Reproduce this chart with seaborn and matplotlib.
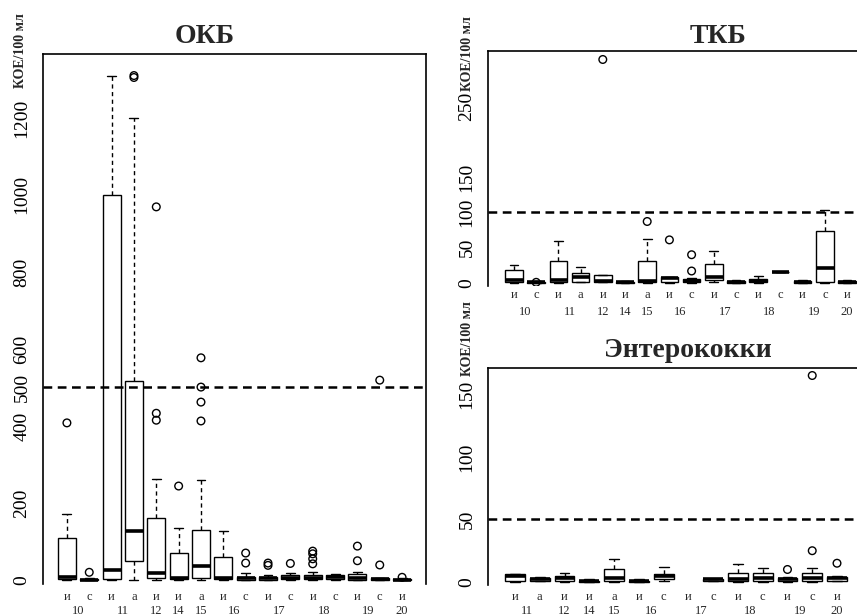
import numpy as np
import pandas as pd
import matplotlib
matplotlib.use("Agg")
import matplotlib.pyplot as plt
import matplotlib.transforms as mtransforms
import seaborn as sns

# ---- ОКБ ----
okb_groups = ["и10", "с10", "и11", "а11", "и12", "и14", "а15", "и16",
              "с16", "и17", "с17", "и18", "с18", "и19", "с19", "и20"]
okb_lo = [0, 0, 0, 0, 0, 0, 0, 0, 0, 0, 0, 0, 0, 0, 0, 0]
okb_q1 = [2, 0, 2, 50, 5, 2, 5, 2, 1, 1, 3, 3, 2, 1, 0, 0]
okb_med = [8, 1, 25, 127, 18, 5, 36, 4, 4, 4, 6, 6, 8, 5, 2, 1]
okb_q3 = [109, 3, 1000, 517, 160, 70, 130, 60, 9, 8, 12, 14, 14, 15, 4, 2]
okb_hi = [171, 6, 1310, 1200, 262, 135, 260, 127, 18, 14, 18, 20, 16, 21, 6, 4]
okb_out = {"и10": [408], "с10": [20], "а11": [1305, 1310], "и12": [415, 433, 969],
           "и14": [244], "а15": [413, 462, 501, 577], "с16": [44, 70], "и17": [38, 44],
           "с17": [43], "и18": [42, 55, 68, 75], "и19": [50, 88], "с19": [39, 519],
           "и20": [7]}
okb_ticks = [0, 200, 400, 500, 600, 800, 1000, 1200]
okb_ticklabels = ["0", "200", "400", "500", "600", "800", "1000", "1200"]

# ---- ТКБ ----
tkb_groups = okb_groups
tkb_lo = [0, 0, 0, 1, 2, 0, 0, 0, 0, 1, 0, 0, 15, 0, 0, 0]
tkb_q1 = [1, 0, 1, 2, 2, 0, 1, 1, 1, 4, 0, 1, 15, 0, 1, 0]
tkb_med = [4, 1, 4, 8, 3, 1, 3, 7, 3, 8, 2, 3, 15, 2, 21, 2]
tkb_q3 = [18, 2, 31, 14, 12, 2, 31, 9, 5, 27, 3, 6, 15, 3, 74, 3]
tkb_hi = [25, 3, 59, 22, 12, 3, 62, 9, 7, 45, 4, 10, 15, 4, 103, 4]
tkb_out = {"с10": [1], "и12": [316], "а15": [87], "и16": [61], "с16": [17, 40]}
tkb_ticks = [0, 50, 100, 150, 200, 250, 300]
tkb_ticklabels = ["0", "50", "100", "150", "", "250", ""]

# ---- Энтерококки ----
ent_groups = ["и11", "а11", "и12", "и14", "а15", "и16", "с16",
              "и17", "с17", "и18", "с18", "и19", "с19", "и20"]
nan = np.nan
ent_lo = [0, 1, 0, 0, 0, 0, 1, nan, 1, 0, 0, 0, 0, 1]
ent_q1 = [1, 1, 1, 0, 1, 0, 2, nan, 1, 1, 1, 1, 1, 1]
ent_med = [5, 2, 3, 1, 3, 1, 5, nan, 2, 2, 3, 2, 3, 3]
ent_q3 = [6, 3, 5, 1, 10, 1, 6, nan, 2, 7, 7, 3, 7, 4]
ent_hi = [6, 4, 7, 2, 18, 2, 12, nan, 2, 14, 11, 4, 11, 5]
ent_out = {"и19": [10], "с19": [25, 165], "и20": [15]}
ent_ticks = [0, 50, 100, 150]
ent_ticklabels = ["0", "50", "100", "150"]

UNIT = "КОЕ/100 мл"
W, H = 857, 616


def box_frame(groups, lo, q1, med, q3, hi):
    rows = []
    for g, a, b, c, d, e in zip(groups, lo, q1, med, q3, hi):
        if np.isnan(a):
            continue
        rows += [(g, v) for v in (a, b, c, d, e)]
    return pd.DataFrame(rows, columns=["group", "value"])


def out_frame(out):
    rows = [(g, v) for g, vals in out.items() for v in vals]
    return pd.DataFrame(rows, columns=["group", "value"])


def px_axes(fig, x0, x1, y0, y1):
    return fig.add_axes([x0 / W, 1 - y1 / H, (x1 - x0) / W, (y1 - y0) / H])


def draw_panel(fig, ax, groups, stats, out, limit, ticks, ticklabels, ylim, xpad,
               unit_off, letters_y, numbers_y):
    sns.boxplot(data=box_frame(groups, *stats), x="group", y="value", order=groups, ax=ax,
                color="white", linecolor="black", linewidth=1.0, width=0.8,
                whis=(0, 100), showfliers=False,
                medianprops={"linewidth": 2.6, "color": "black"},
                whiskerprops={"linestyle": (0, (3, 2.5))})
    n_before = len(ax.collections)
    sns.stripplot(data=out_frame(out), x="group", y="value", order=groups, ax=ax,
                  jitter=False, size=5.5, color="black", edgecolor="black", linewidth=1)
    for c in ax.collections[n_before:]:
        c.set_facecolor("none")
        c.set_edgecolor("black")
    ax.axhline(limit, color="black", lw=1.8, ls=(0, (3.5, 2.2)), zorder=4)

    n = len(groups)
    ax.set_xlim(-xpad[0], n - 1 + xpad[1])
    ax.set_ylim(*ylim)
    ax.set_xlabel("")
    ax.set_ylabel("")
    ax.set_xticks([])
    ax.set_yticks(ticks, ticklabels, rotation=90, va="center")
    ax.tick_params(axis="y", length=5, width=1, pad=4, labelsize=14, colors="black")
    for side in ["left", "top", "right"]:
        ax.spines[side].set_linewidth(1.2)
        ax.spines[side].set_color("black")
    ax.spines["bottom"].set_visible(False)

    # group letters and station numbers under the boxes
    tr = mtransforms.blended_transform_factory(ax.transData, fig.transFigure)
    for i, g in enumerate(groups):
        ax.text(i, 1 - letters_y / H, g[0], transform=tr, ha="center", va="baseline",
                fontsize=9, clip_on=False)
    numbers = []
    for g in groups:
        if g[1:] not in numbers:
            numbers.append(g[1:])
    for num in numbers:
        pos = np.mean([i for i, g in enumerate(groups) if g[1:] == num])
        ax.text(pos, 1 - numbers_y / H, num, transform=tr, ha="center", va="baseline",
                fontsize=9, clip_on=False)

    utr = mtransforms.blended_transform_factory(ax.transAxes, ax.transData)
    ax.annotate(UNIT, xy=(0, ticks[-1] if ticklabels[-1] else ticks[-2]), xycoords=utr,
                xytext=unit_off, textcoords="offset points", rotation=90,
                ha="center", va="bottom", fontsize=10, fontweight="bold",
                annotation_clip=False)


sns.set_style("white")
plt.rcParams["font.family"] = ["Liberation Serif", "DejaVu Serif"]

fig = plt.figure(figsize=(W / 100, H / 100), dpi=100)

ax1 = px_axes(fig, 43, 426, 54, 584)
draw_panel(fig, ax1, okb_groups, (okb_lo, okb_q1, okb_med, okb_q3, okb_hi), okb_out,
           500, okb_ticks, okb_ticklabels, (-10.4, 1366), (1.07, 1.07),
           (-16.5, 21.6), 600, 614)

ax2 = px_axes(fig, 488, 873, 51, 286)
draw_panel(fig, ax2, tkb_groups, (tkb_lo, tkb_q1, tkb_med, tkb_q3, tkb_hi), tkb_out,
           100, tkb_ticks, tkb_ticklabels, (-4.2, 328), (1.17, 1.17),
           (-15.1, 11.0), 298, 315)

ax3 = px_axes(fig, 488, 864, 368, 585)
draw_panel(fig, ax3, ent_groups, (ent_lo, ent_q1, ent_med, ent_q3, ent_hi), ent_out,
           50, ent_ticks, ent_ticklabels, (-2.4, 171), (1.09, 1.09),
           (-15.1, 13.0), 600, 614)

fig.text(205 / W, 1 - 43 / H, "ОКБ", ha="center", va="baseline", fontsize=20, fontweight="bold")
fig.text(718 / W, 1 - 43 / H, "ТКБ", ha="center", va="baseline", fontsize=20, fontweight="bold")
fig.text(688 / W, 1 - 357 / H, "Энтерококки", ha="center", va="baseline", fontsize=20,
         fontweight="bold")

fig.savefig("out.png", dpi=100)
